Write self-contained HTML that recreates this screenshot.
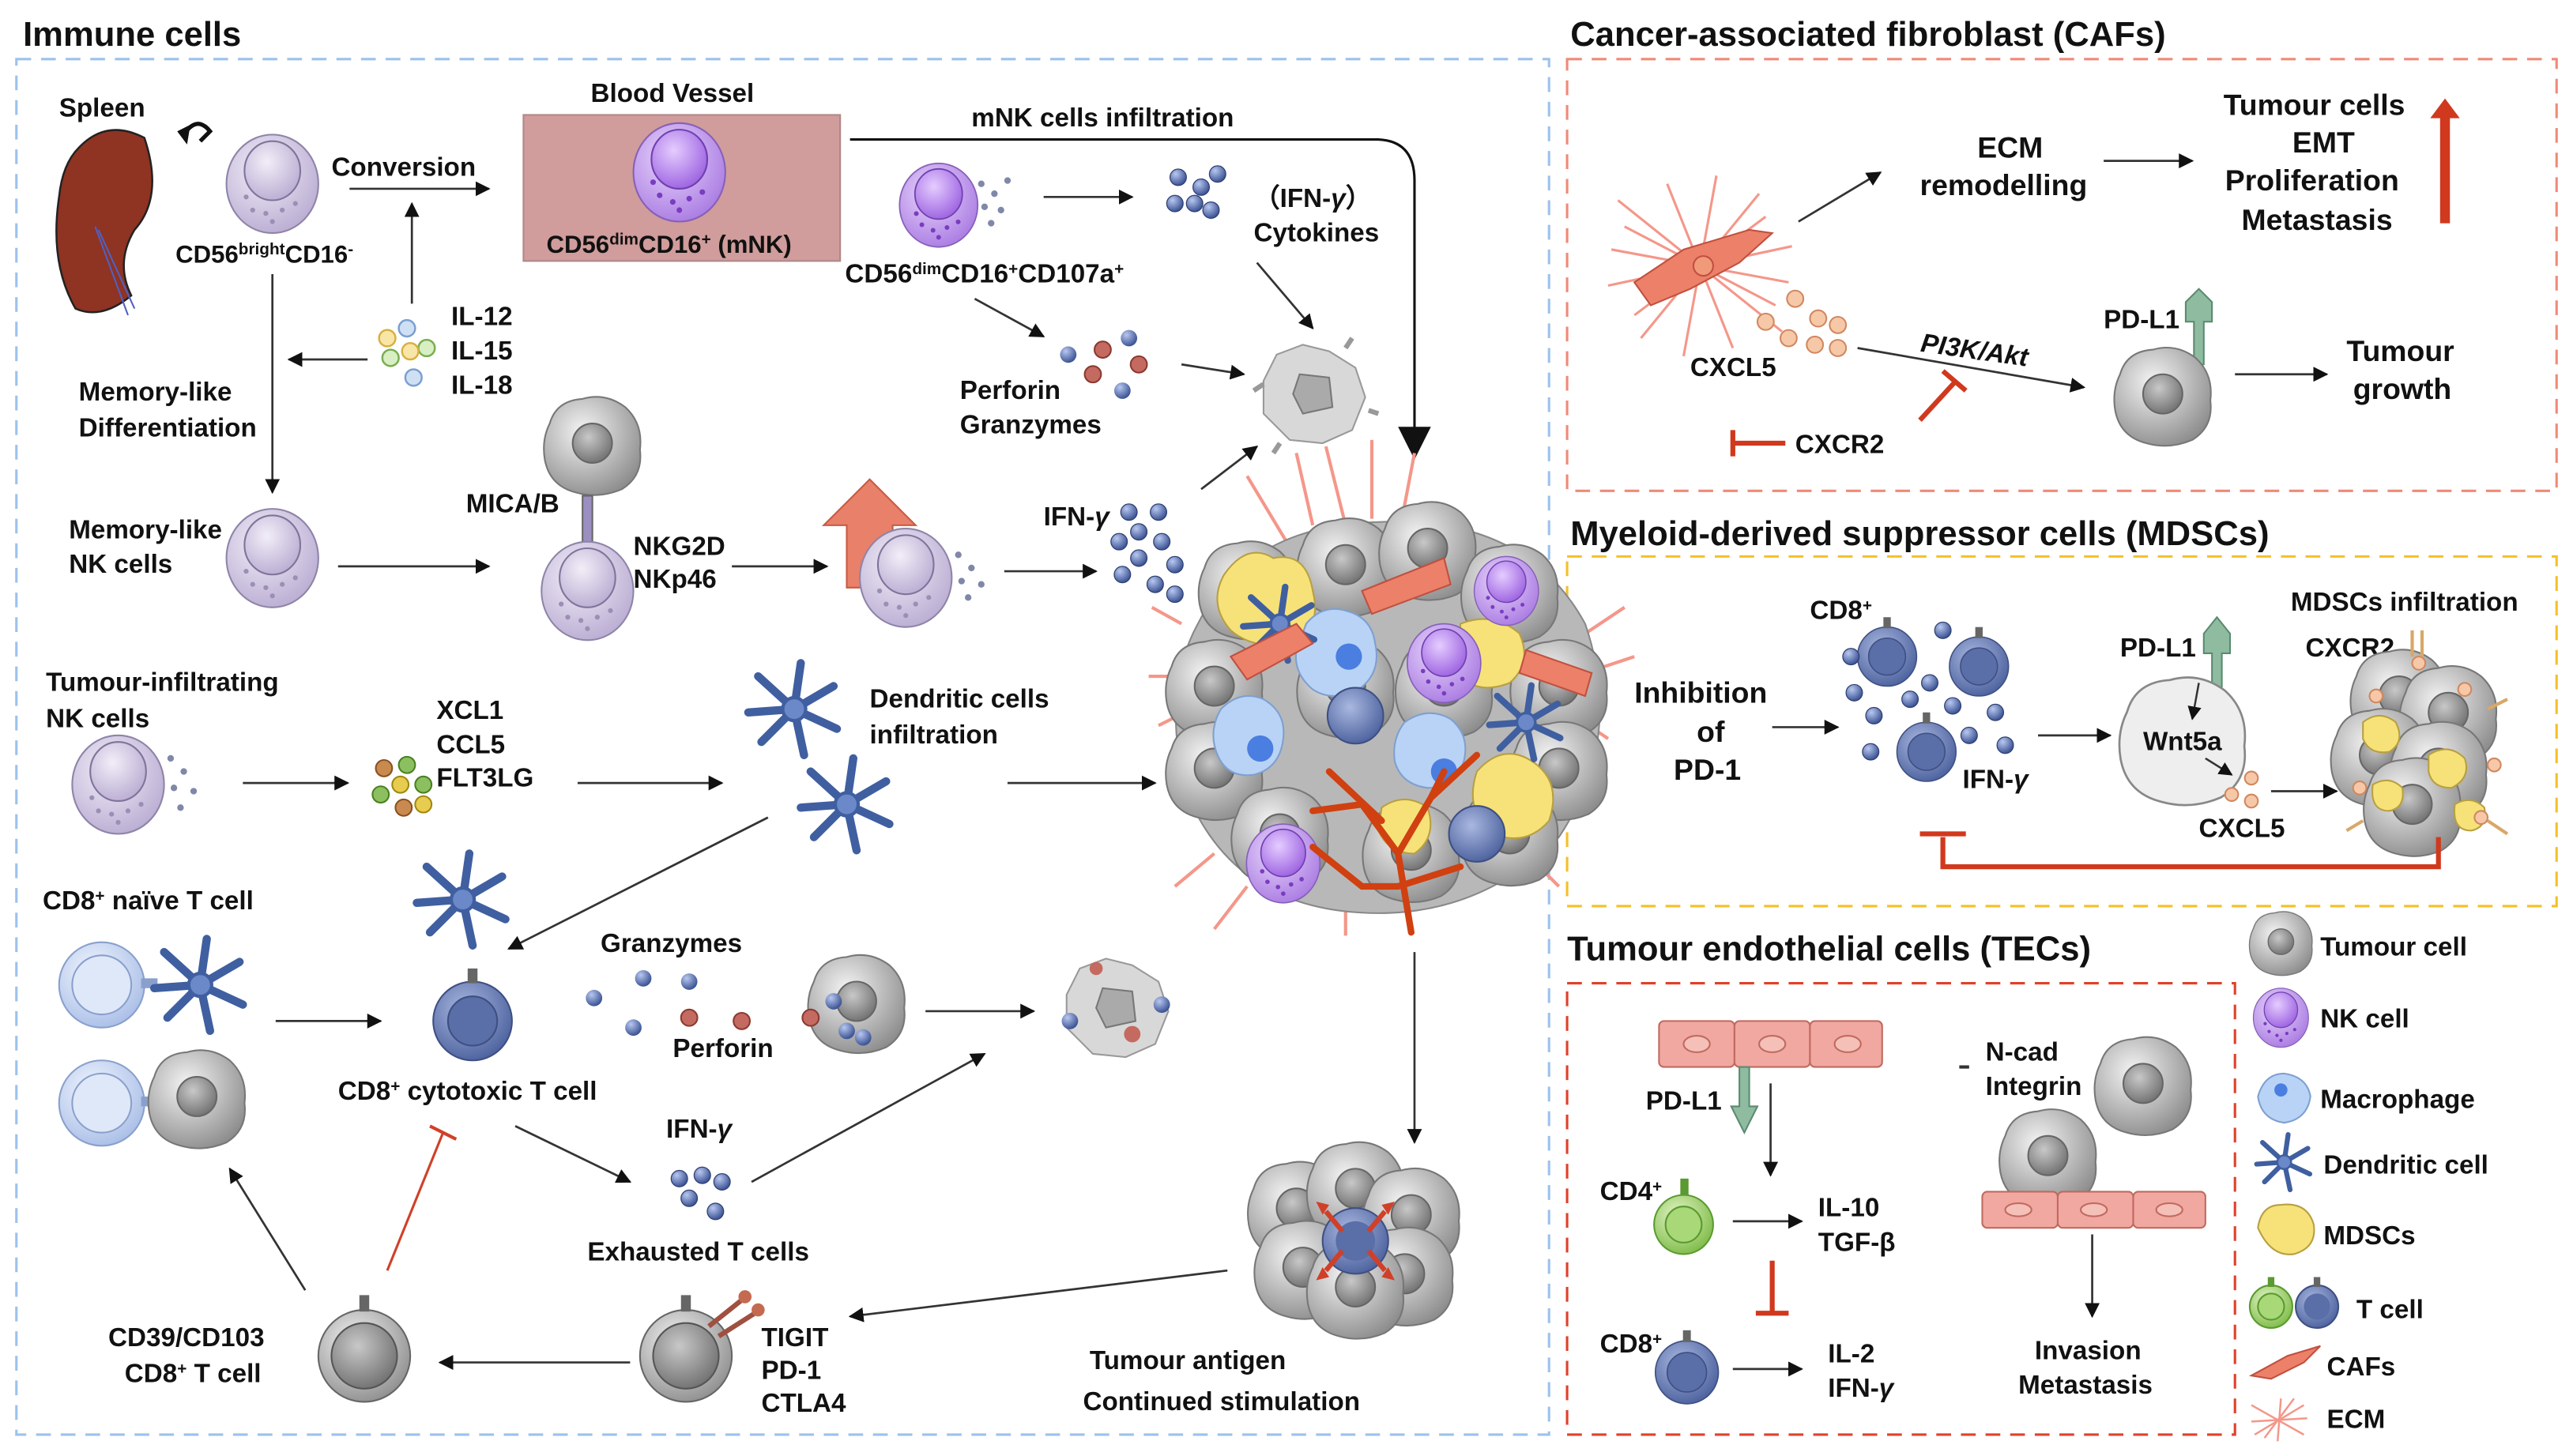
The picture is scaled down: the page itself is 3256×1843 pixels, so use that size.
<!DOCTYPE html>
<html><head><meta charset="utf-8"><style>
html,body{margin:0;padding:0;background:#fff}
svg{display:block}
text{font-family:"Liberation Sans Narrow","Liberation Sans",sans-serif;font-weight:bold;fill:#111}
</style></head><body>
<svg width="3256" height="1843" viewBox="0 0 1568 887" preserveAspectRatio="none" xmlns="http://www.w3.org/2000/svg">
<defs>
<radialGradient id="gg" cx="40%" cy="35%" r="70%"><stop offset="0" stop-color="#f4f4f4"/><stop offset="1" stop-color="#8d8d8d"/></radialGradient>
<radialGradient id="gn" cx="40%" cy="35%" r="70%"><stop offset="0" stop-color="#c8c8c8"/><stop offset="1" stop-color="#6f6f6f"/></radialGradient>
<radialGradient id="lav" cx="40%" cy="35%" r="70%"><stop offset="0" stop-color="#f2eef8"/><stop offset="1" stop-color="#b9acd2"/></radialGradient>
<radialGradient id="pur" cx="40%" cy="35%" r="70%"><stop offset="0" stop-color="#e8d6fb"/><stop offset="1" stop-color="#a97ae2"/></radialGradient>
<radialGradient id="purn" cx="40%" cy="35%" r="70%"><stop offset="0" stop-color="#e5ccff"/><stop offset="1" stop-color="#9b60e0"/></radialGradient>
<radialGradient id="blu" cx="40%" cy="35%" r="70%"><stop offset="0" stop-color="#a9b8e0"/><stop offset="1" stop-color="#4a5f9c"/></radialGradient>
<radialGradient id="lb" cx="40%" cy="35%" r="70%"><stop offset="0" stop-color="#f3f7ff"/><stop offset="1" stop-color="#a8bde6"/></radialGradient>
<radialGradient id="grn" cx="40%" cy="35%" r="70%"><stop offset="0" stop-color="#e4f5c8"/><stop offset="1" stop-color="#7cba45"/></radialGradient>
<radialGradient id="dot" cx="35%" cy="30%" r="70%"><stop offset="0" stop-color="#b8c8f0"/><stop offset="1" stop-color="#3d5495"/></radialGradient>
<marker id="a" viewBox="0 0 10 10" refX="9" refY="5" markerWidth="7" markerHeight="7" orient="auto-start-reverse"><path d="M0,0L10,5L0,10z" fill="#111"/></marker>
<g id="tum"><path d="M-26,-14 Q-22,-28 -6,-29 Q8,-33 20,-24 Q31,-14 29,2 Q31,18 18,26 Q4,32 -10,28 Q-26,24 -29,8 Q-31,-4 -26,-14z" fill="url(#gg)" stroke="#777" stroke-width="1"/><circle cx="0" cy="-2" r="12" fill="url(#gn)" stroke="#666"/></g>
<g id="nkl"><ellipse cx="0" cy="0" rx="28" ry="30" fill="url(#lav)" stroke="#8e84a8"/><ellipse cx="0" cy="-8" rx="17" ry="18" fill="url(#lav)" stroke="#7f7499"/><g fill="#9a8fb4"><circle cx="-12" cy="16" r="1.5"/><circle cx="-4" cy="18" r="1.5"/><circle cx="6" cy="16" r="1.5"/><circle cx="14" cy="12" r="1.5"/><circle cx="0" cy="23" r="1.5"/><circle cx="-16" cy="8" r="1.5"/></g></g>
<g id="nkp"><ellipse cx="0" cy="0" rx="28" ry="30" fill="url(#pur)" stroke="#8660b8"/><ellipse cx="0" cy="-8" rx="17" ry="18" fill="url(#purn)" stroke="#7040b0"/><g fill="#7a3cc0"><circle cx="-12" cy="14" r="1.7"/><circle cx="-4" cy="18" r="1.7"/><circle cx="6" cy="16" r="1.7"/><circle cx="14" cy="12" r="1.7"/><circle cx="0" cy="23" r="1.7"/><circle cx="-16" cy="6" r="1.7"/></g></g>
<g id="tcb"><circle r="24" fill="url(#blu)" stroke="#3e4f82"/><circle r="15" fill="#5a6ea8" stroke="#3e4f82"/><rect x="-3" y="-32" width="6" height="9" fill="#666"/></g>
<g id="tcg"><circle r="28" fill="url(#gg)" stroke="#666"/><circle r="20" fill="url(#gn)" stroke="#555"/><rect x="-3" y="-37" width="6" height="10" fill="#666"/></g>
<g id="dc" stroke="#3f5fa0" stroke-width="5" stroke-linecap="round" fill="none"><path d="M0,0L-22,-20M0,0L4,-28M0,0L24,-14M0,0L26,12M0,0L6,28M0,0L-20,20M0,0L-28,2"/><circle r="7" fill="#6b88c8" stroke-width="2"/></g>
<g id="bd"><circle r="5" fill="url(#dot)" stroke="#2e3f70" stroke-width=".6"/></g>
</defs>

<text x="14" y="28" font-size="21">Immune cells</text>
<text x="957" y="28" font-size="21">Cancer-associated fibroblast (CAFs)</text>
<text x="957" y="332" font-size="21">Myeloid-derived suppressor cells (MDSCs)</text>
<text x="955" y="585" font-size="21">Tumour endothelial cells (TECs)</text>

<rect x="10" y="36" width="934" height="838" fill="none" stroke="#9cc2ec" stroke-width="1.5" stroke-dasharray="9,6"/>
<rect x="955" y="36" width="603" height="263" fill="none" stroke="#f08a78" stroke-width="1.5" stroke-dasharray="9,6"/>
<rect x="955" y="339" width="603" height="213" fill="none" stroke="#f5c027" stroke-width="1.5" stroke-dasharray="9,6"/>
<rect x="955" y="599" width="407" height="275" fill="none" stroke="#e0412a" stroke-width="1.5" stroke-dasharray="9,6"/>

<text x="36" y="71" font-size="16">Spleen</text>
<path d="M48,90 Q65,72 88,84 Q100,120 82,140 Q70,160 80,180 Q62,195 46,188 Q30,160 36,120 Q38,100 48,90z" fill="#8f3322" stroke="#222" stroke-width="1.2"/>
<path d="M60,140 L82,188 M58,138 L78,192" stroke="#5060c0" stroke-width="1" fill="none"/>
<path d="M112,82 Q120,70 128,80 L122,86" fill="none" stroke="#111" stroke-width="2.5"/>
<path d="M108,80 L116,76 L114,88z" fill="#111"/>
<use href="#nkl" x="166" y="112"/>
<text x="107" y="160" font-size="15">CD56<tspan font-size="10" dy="-5">bright</tspan><tspan dy="5">CD16</tspan><tspan font-size="10" dy="-5">-</tspan></text>
<text x="202" y="107" font-size="16">Conversion</text>
<line x1="213" y1="115" x2="298" y2="115" stroke="#333" stroke-width="1.3" marker-end="url(#a)"/>
<line x1="251" y1="185" x2="251" y2="124" stroke="#333" stroke-width="1.3" marker-end="url(#a)"/>
<g stroke-width="1.2"><circle cx="248" cy="200" r="5" fill="#cfe0f5" stroke="#7aa0d0"/><circle cx="236" cy="206" r="5" fill="#f8e6a8" stroke="#d8b040"/><circle cx="260" cy="212" r="5" fill="#d8efc4" stroke="#7aae50"/><circle cx="250" cy="214" r="5" fill="#f8e6a8" stroke="#d8b040"/><circle cx="238" cy="218" r="5" fill="#d8efc4" stroke="#7aae50"/><circle cx="252" cy="230" r="5" fill="#cfe0f5" stroke="#7aa0d0"/></g>
<text x="275" y="198" font-size="16">IL-12</text>
<text x="275" y="219" font-size="16">IL-15</text>
<text x="275" y="240" font-size="16">IL-18</text>
<line x1="224" y1="219" x2="176" y2="219" stroke="#333" stroke-width="1.3" marker-end="url(#a)"/>
<line x1="166" y1="167" x2="166" y2="300" stroke="#333" stroke-width="1.3" marker-end="url(#a)"/>
<text x="48" y="244" font-size="16">Memory-like</text>
<text x="48" y="266" font-size="16">Differentiation</text>

<text x="360" y="62" font-size="16">Blood Vessel</text>
<rect x="319" y="70" width="193" height="89" fill="#d09c9c" stroke="#b08888"/>
<use href="#nkp" x="414" y="105"/>
<text x="333" y="154" font-size="15">CD56<tspan font-size="10" dy="-5">dim</tspan><tspan dy="5">CD16</tspan><tspan font-size="10" dy="-5">+</tspan><tspan dy="5"> (mNK)</tspan></text>
<text x="592" y="77" font-size="16">mNK cells infiltration</text>
<path d="M518,85 L840,85 Q862,86 862,110 L862,272" fill="none" stroke="#111" stroke-width="1.5"/>
<path d="M852,260 L862,280 L872,260z" fill="#111"/>
<use href="#nkp" x="572" y="125" transform="translate(572,125) scale(.85) translate(-572,-125)"/>
<g fill="#7f88a8"><circle cx="598" cy="112" r="2"/><circle cx="606" cy="118" r="2"/><circle cx="600" cy="126" r="2"/><circle cx="610" cy="128" r="2"/><circle cx="604" cy="136" r="2"/><circle cx="614" cy="110" r="2"/></g>
<text x="515" y="172" font-size="16">CD56<tspan font-size="10" dy="-5">dim</tspan><tspan dy="5">CD16</tspan><tspan font-size="10" dy="-5">+</tspan><tspan dy="5">CD107a</tspan><tspan font-size="10" dy="-5">+</tspan></text>
<line x1="636" y1="120" x2="690" y2="120" stroke="#333" stroke-width="1.3" marker-end="url(#a)"/>
<use href="#bd" x="718" y="108"/><use href="#bd" x="732" y="114"/><use href="#bd" x="742" y="106"/><use href="#bd" x="716" y="124"/><use href="#bd" x="738" y="128"/><use href="#bd" x="728" y="124"/>
<text x="764" y="126" font-size="16">（IFN-<tspan font-style="italic">γ</tspan>）</text>
<text x="764" y="147" font-size="16">Cytokines</text>
<line x1="766" y1="160" x2="800" y2="200" stroke="#333" stroke-width="1.3" marker-end="url(#a)"/>
<line x1="594" y1="182" x2="636" y2="205" stroke="#333" stroke-width="1.3" marker-end="url(#a)"/>
<circle cx="651" cy="216" r="5" fill="url(#dot)"/><circle cx="672" cy="213" r="5" fill="#c46a60" stroke="#8a3a30"/><circle cx="688" cy="206" r="5" fill="url(#dot)"/><circle cx="666" cy="228" r="5" fill="#c46a60" stroke="#8a3a30"/><circle cx="684" cy="238" r="5" fill="url(#dot)"/><circle cx="694" cy="222" r="5" fill="#c46a60" stroke="#8a3a30"/>
<text x="585" y="243" font-size="16">Perforin</text>
<text x="585" y="264" font-size="16">Granzymes</text>
<line x1="720" y1="222" x2="758" y2="228" stroke="#333" stroke-width="1.3" marker-end="url(#a)"/>
<g transform="translate(800,240)"><path d="M-30,-8 L-22,-24 L-6,-30 L10,-26 L26,-16 L32,2 L24,22 L6,30 L-14,28 L-30,12z" fill="#d8d8d8" stroke="#999"/><path d="M-8,-12 L10,-10 L12,8 L-6,12 L-12,0z" fill="#aaa" stroke="#777"/><path d="M-36,-2 l6,-4 M34,10 l6,2 M-20,30 l-4,6 M20,-28 l4,-6" stroke="#999" stroke-width="3"/></g>
<line x1="732" y1="298" x2="766" y2="272" stroke="#333" stroke-width="1.3" marker-end="url(#a)"/>

<text x="42" y="328" font-size="16">Memory-like</text>
<text x="42" y="349" font-size="16">NK cells</text>
<use href="#nkl" x="166" y="340"/>
<line x1="206" y1="345" x2="298" y2="345" stroke="#333" stroke-width="1.3" marker-end="url(#a)"/>
<use href="#tum" x="361" y="272"/>
<rect x="355" y="302" width="6" height="30" fill="#9a8fc0" stroke="#666"/>
<text x="284" y="312" font-size="16">MICA/B</text>
<use href="#nkl" x="358" y="360"/>
<text x="386" y="338" font-size="16">NKG2D</text>
<text x="386" y="358" font-size="16">NKp46</text>
<line x1="446" y1="345" x2="504" y2="345" stroke="#333" stroke-width="1.3" marker-end="url(#a)"/>
<path d="M516,358 L516,320 L502,320 L530,292 L558,320 L544,320 L544,358z" fill="#e8806a" stroke="#c85a44"/>
<use href="#nkl" x="552" y="352"/>
<g fill="#7f88a8"><circle cx="584" cy="338" r="2"/><circle cx="592" cy="346" r="2"/><circle cx="586" cy="354" r="2"/><circle cx="598" cy="356" r="2"/><circle cx="590" cy="364" r="2"/></g>
<line x1="612" y1="348" x2="668" y2="348" stroke="#333" stroke-width="1.3" marker-end="url(#a)"/>
<text x="636" y="320" font-size="16">IFN-<tspan font-style="italic">γ</tspan></text>
<use href="#bd" x="688" y="312"/><use href="#bd" x="706" y="312"/><use href="#bd" x="694" y="324"/><use href="#bd" x="682" y="330"/><use href="#bd" x="708" y="330"/><use href="#bd" x="694" y="340"/><use href="#bd" x="716" y="344"/><use href="#bd" x="684" y="350"/><use href="#bd" x="704" y="356"/><use href="#bd" x="716" y="362"/>

<text x="28" y="421" font-size="16">Tumour-infiltrating</text>
<text x="28" y="443" font-size="16">NK cells</text>
<use href="#nkl" x="72" y="478"/>
<g fill="#7f88a8"><circle cx="104" cy="462" r="2"/><circle cx="112" cy="470" r="2"/><circle cx="106" cy="480" r="2"/><circle cx="118" cy="482" r="2"/><circle cx="110" cy="492" r="2"/></g>
<line x1="148" y1="477" x2="212" y2="477" stroke="#333" stroke-width="1.3" marker-end="url(#a)"/>
<circle cx="234" cy="468" r="5" fill="#c98a50" stroke="#8a5020"/><circle cx="248" cy="466" r="5" fill="#8bbf60" stroke="#4a8020"/><circle cx="232" cy="484" r="5" fill="#8bbf60" stroke="#4a8020"/><circle cx="244" cy="478" r="5" fill="#e8cc50" stroke="#a08810"/><circle cx="258" cy="478" r="5" fill="#8bbf60" stroke="#4a8020"/><circle cx="246" cy="492" r="5" fill="#c98a50" stroke="#8a5020"/><circle cx="258" cy="490" r="5" fill="#e8cc50" stroke="#a08810"/>
<text x="266" y="438" font-size="16">XCL1</text>
<text x="266" y="459" font-size="16">CCL5</text>
<text x="266" y="479" font-size="16">FLT3LG</text>
<line x1="352" y1="477" x2="440" y2="477" stroke="#333" stroke-width="1.3" marker-end="url(#a)"/>
<use href="#dc" x="484" y="432"/>
<use href="#dc" x="516" y="490"/>
<text x="530" y="431" font-size="16">Dendritic cells</text>
<text x="530" y="453" font-size="16">infiltration</text>
<line x1="614" y1="477" x2="704" y2="477" stroke="#333" stroke-width="1.3" marker-end="url(#a)"/>
<line x1="468" y1="498" x2="310" y2="578" stroke="#333" stroke-width="1.3" marker-end="url(#a)"/>

<text x="26" y="554" font-size="16">CD8<tspan font-size="10" dy="-5">+</tspan><tspan dy="5"> naïve T cell</tspan></text>
<circle cx="62" cy="600" r="26" fill="url(#lb)" stroke="#8aa0cc"/><circle cx="62" cy="600" r="18" fill="#dfe8f8" stroke="#8aa0cc"/>
<rect x="86" y="596" width="10" height="6" fill="#8aa0cc"/>
<use href="#dc" x="122" y="600"/>
<circle cx="62" cy="672" r="26" fill="url(#lb)" stroke="#8aa0cc"/><circle cx="62" cy="672" r="18" fill="#dfe8f8" stroke="#8aa0cc"/>
<rect x="86" y="668" width="10" height="6" fill="#8aa0cc"/>
<use href="#tum" x="120" y="670"/>
<line x1="168" y1="622" x2="232" y2="622" stroke="#333" stroke-width="1.3" marker-end="url(#a)"/>
<use href="#dc" x="282" y="548"/>
<use href="#tcb" x="288" y="622"/>
<text x="206" y="670" font-size="16">CD8<tspan font-size="10" dy="-5">+</tspan><tspan dy="5"> cytotoxic T cell</tspan></text>
<text x="366" y="580" font-size="16">Granzymes</text>
<circle cx="362" cy="608" r="5" fill="url(#dot)"/><circle cx="392" cy="596" r="5" fill="url(#dot)"/><circle cx="420" cy="598" r="5" fill="url(#dot)"/><circle cx="386" cy="626" r="5" fill="url(#dot)"/><circle cx="420" cy="620" r="5" fill="#c46a60" stroke="#8a3a30"/><circle cx="452" cy="622" r="5" fill="#c46a60" stroke="#8a3a30"/>
<text x="410" y="644" font-size="16">Perforin</text>
<use href="#tum" x="522" y="612"/>
<circle cx="508" cy="610" r="5" fill="url(#dot)"/><circle cx="516" cy="628" r="5" fill="url(#dot)"/><circle cx="526" cy="632" r="5" fill="url(#dot)"/><circle cx="494" cy="620" r="5" fill="#c46a60" stroke="#8a3a30"/>
<line x1="564" y1="616" x2="630" y2="616" stroke="#333" stroke-width="1.3" marker-end="url(#a)"/>
<g transform="translate(680,614)"><path d="M-30,-8 L-22,-24 L-6,-30 L10,-26 L26,-16 L32,2 L24,22 L6,30 L-14,28 L-30,12z" fill="#d8d8d8" stroke="#999"/><path d="M-8,-12 L10,-10 L12,8 L-6,12 L-12,0z" fill="#aaa" stroke="#777"/><circle cx="-28" cy="8" r="5" fill="url(#dot)"/><circle cx="28" cy="-2" r="5" fill="url(#dot)"/><circle cx="10" cy="16" r="5" fill="#c46a60"/><circle cx="-12" cy="-24" r="4" fill="#c46a60"/></g>
<line x1="314" y1="686" x2="384" y2="720" stroke="#333" stroke-width="1.3" marker-end="url(#a)"/>
<text x="406" y="693" font-size="16">IFN-<tspan font-style="italic">γ</tspan></text>
<use href="#bd" x="414" y="718"/><use href="#bd" x="428" y="716"/><use href="#bd" x="440" y="720"/><use href="#bd" x="420" y="730"/><use href="#bd" x="436" y="738"/>
<line x1="458" y1="720" x2="600" y2="642" stroke="#333" stroke-width="1.3" marker-end="url(#a)"/>
<text x="358" y="768" font-size="16">Exhausted T cells</text>
<line x1="270" y1="690" x2="236" y2="774" stroke="#d04028" stroke-width="1.5"/>
<line x1="262" y1="686" x2="278" y2="694" stroke="#d04028" stroke-width="2"/>
<line x1="186" y1="786" x2="140" y2="712" stroke="#333" stroke-width="1.3" marker-end="url(#a)"/>
<text x="66" y="820" font-size="16">CD39/CD103</text>
<text x="76" y="842" font-size="16">CD8<tspan font-size="10" dy="-5">+</tspan><tspan dy="5"> T cell</tspan></text>
<use href="#tcg" x="222" y="826"/>
<line x1="384" y1="830" x2="268" y2="830" stroke="#333" stroke-width="1.3" marker-end="url(#a)"/>
<use href="#tcg" x="418" y="826"/>
<path d="M432,808 L452,792 M438,814 L460,800" stroke="#a05040" stroke-width="3"/>
<circle cx="454" cy="790" r="4" fill="#c46a50"/><circle cx="462" cy="798" r="4" fill="#c46a50"/>
<text x="464" y="820" font-size="16">TIGIT</text>
<text x="464" y="840" font-size="16">PD-1</text>
<text x="464" y="860" font-size="16">CTLA4</text>
<line x1="748" y1="774" x2="518" y2="802" stroke="#333" stroke-width="1.3" marker-end="url(#a)"/>
<text x="664" y="834" font-size="16">Tumour antigen</text>
<text x="660" y="859" font-size="16">Continued stimulation</text>
<line x1="862" y1="580" x2="862" y2="696" stroke="#333" stroke-width="1.3" marker-end="url(#a)"/>
<g transform="translate(826,756)"><use href="#tum" x="-36" y="-18"/><use href="#tum" x="0" y="-30"/><use href="#tum" x="34" y="-14"/><use href="#tum" x="-32" y="18"/><use href="#tum" x="30" y="22"/><use href="#tum" x="0" y="30"/>
<circle r="20" fill="url(#blu)" stroke="#3e4f82"/><circle r="12" fill="#5a6ea8"/>
<path d="M-18,-18 L-8,-6 M18,-18 L8,-6 M-18,18 L-8,6 M18,18 L8,6" stroke="#d04028" stroke-width="3"/>
<path d="M-24,-24 l8,2 l-4,6z M24,-24 l-8,2 l4,6z M-24,24 l8,-2 l-4,-6z M24,24 l-8,-2 l4,-6z" fill="#d04028"/></g>

<!-- Big tumour -->
<g>
<g stroke="#f4978a" stroke-width="2"><path d="M790,340 L760,290 M800,320 L790,276 M820,320 L808,272 M836,316 L836,268 M854,318 L862,276 M720,380 L702,370 M722,412 L700,412 M730,430 L706,442 M960,390 L990,370 M966,410 L996,400 M950,430 L980,450 M740,520 L716,540 M760,540 L740,566 M820,540 L820,570 M930,520 L950,540"/></g>
<path d="M730,380 Q760,320 840,318 Q930,314 966,380 Q990,450 950,510 Q900,560 830,556 Q750,552 722,480 Q708,420 730,380z" fill="#b8b8b8" stroke="#888"/>
<use href="#tum" x="760" y="360"/><use href="#tum" x="820" y="346"/><use href="#tum" x="870" y="336"/><use href="#tum" x="920" y="362"/><use href="#tum" x="740" y="420"/><use href="#tum" x="950" y="420"/><use href="#tum" x="740" y="470"/><use href="#tum" x="950" y="470"/><use href="#tum" x="780" y="510"/><use href="#tum" x="920" y="510"/><use href="#tum" x="860" y="520"/><use href="#tum" x="820" y="420"/><use href="#tum" x="880" y="420"/>
<path d="M746,350 Q760,330 776,340 Q796,336 800,360 Q806,384 786,392 Q764,396 750,384 Q736,368 746,350z" fill="#f7e27a" stroke="#b8a040"/>
<path d="M900,470 Q916,452 934,464 Q952,476 944,500 Q930,516 910,508 Q892,494 900,470z" fill="#f7e27a" stroke="#b8a040"/>
<path d="M890,380 Q910,372 926,386 Q934,404 920,416 Q900,424 888,410z" fill="#f7e27a" stroke="#b8a040"/>
<path d="M842,492 Q856,482 870,492 Q876,510 862,520 Q846,520 840,506z" fill="#f7e27a" stroke="#b8a040"/>
<g fill="#b8d3f5" stroke="#7fa0d0"><path d="M796,380 q10,-12 24,-8 q16,4 18,20 q4,18 -10,28 q-16,8 -28,0 q-12,-10 -10,-24z"/><path d="M744,432 q12,-12 26,-6 q14,8 12,24 q-2,18 -18,22 q-16,2 -22,-12 q-6,-14 2,-28z"/><path d="M856,440 q14,-10 28,-2 q12,10 8,26 q-6,16 -22,16 q-16,-2 -20,-16 q-2,-14 6,-24z"/></g>
<circle cx="822" cy="400" r="8" fill="#4a7ee0"/><circle cx="768" cy="456" r="8" fill="#4a7ee0"/><circle cx="880" cy="470" r="8" fill="#4a7ee0"/>
<circle cx="826" cy="436" r="17" fill="url(#blu)" stroke="#3e4f82"/>
<circle cx="900" cy="508" r="17" fill="url(#blu)" stroke="#3e4f82"/>
<use href="#nkp" x="880" y="404" transform="translate(880,404) scale(.8) translate(-880,-404)"/>
<use href="#nkp" x="918" y="360" transform="translate(918,360) scale(.7) translate(-918,-360)"/>
<use href="#nkp" x="782" y="526" transform="translate(782,526) scale(.8) translate(-782,-526)"/>
<use href="#dc" x="780" y="380" transform="translate(780,380) scale(.8) translate(-780,-380)"/>
<use href="#dc" x="930" y="440" transform="translate(930,440) scale(.8) translate(-930,-440)"/>
<path d="M750,400 L790,380 L800,392 L760,414z" fill="#ec8068" stroke="#c05040"/>
<path d="M830,360 L880,340 L884,356 L836,374z" fill="#ec8068" stroke="#c05040"/>
<path d="M930,396 L970,410 L966,424 L926,410z" fill="#ec8068" stroke="#c05040"/>
<path d="M860,568 L852,520 L830,490 M852,520 L872,486 L880,470 M842,500 L810,470 M872,486 L900,460 M830,490 L800,494 M852,540 L830,540 L800,516 M852,540 L890,528" fill="none" stroke="#d04010" stroke-width="4" stroke-linecap="round"/>
</g>

<g transform="translate(1036,162)">
<g stroke="#f4978a" stroke-width="1.5"><path d="M-50,-40 L50,40 M-54,-10 L54,10 M-40,30 L40,-30 M-20,-50 L20,50 M10,-55 L-10,55 M36,-44 L-36,44 M-56,12 L56,-12 M-46,-24 L46,24"/></g>
<path d="M-40,10 L-10,-10 L30,-22 L44,-20 L24,-2 L-6,14 L-30,24z" fill="#ec8068" stroke="#c05040"/>
<circle cx="2" cy="0" r="6" fill="#f09a7a" stroke="#c05040"/>
</g>
<g fill="#f6c8a8" stroke="#d08860"><circle cx="1094" cy="182" r="5"/><circle cx="1108" cy="194" r="5"/><circle cx="1090" cy="206" r="5"/><circle cx="1120" cy="198" r="5"/><circle cx="1106" cy="210" r="5"/><circle cx="1076" cy="196" r="5"/><circle cx="1120" cy="212" r="5"/></g>
<text x="1030" y="229" font-size="16">CXCL5</text>
<line x1="1096" y1="135" x2="1146" y2="105" stroke="#333" stroke-width="1.3" marker-end="url(#a)"/>
<text x="1205" y="96" font-size="18">ECM</text>
<text x="1170" y="119" font-size="18">remodelling</text>
<line x1="1282" y1="98" x2="1336" y2="98" stroke="#333" stroke-width="1.3" marker-end="url(#a)"/>
<text x="1355" y="70" font-size="18">Tumour cells</text>
<text x="1397" y="93" font-size="18">EMT</text>
<text x="1356" y="116" font-size="18">Proliferation</text>
<text x="1366" y="140" font-size="18">Metastasis</text>
<path d="M1487,136 L1487,72 L1481,72 L1490,60 L1499,72 L1493,72 L1493,136z" fill="#d0391e"/>
<line x1="1132" y1="212" x2="1270" y2="236" stroke="#333" stroke-width="1.3" marker-end="url(#a)"/>
<text x="1170" y="214" font-size="16" font-style="italic" transform="rotate(8 1170 214)">PI3K/Akt</text>
<line x1="1170" y1="256" x2="1192" y2="232" stroke="#d0391e" stroke-width="3"/>
<line x1="1184" y1="226" x2="1198" y2="238" stroke="#d0391e" stroke-width="3"/>
<line x1="1056" y1="270" x2="1088" y2="270" stroke="#d0391e" stroke-width="3"/>
<line x1="1056" y1="262" x2="1056" y2="278" stroke="#d0391e" stroke-width="3"/>
<text x="1094" y="276" font-size="16">CXCR2</text>
<text x="1282" y="200" font-size="16">PD-L1</text>
<path d="M1337,222 L1337,196 L1332,196 L1332,184 L1340,176 L1348,184 L1348,196 L1343,196 L1343,222z" fill="#8fbca0" stroke="#5a8a70"/>
<use href="#tum" x="1318" y="242"/>
<line x1="1362" y1="228" x2="1418" y2="228" stroke="#333" stroke-width="1.3" marker-end="url(#a)"/>
<text x="1430" y="220" font-size="18">Tumour</text>
<text x="1434" y="243" font-size="18">growth</text>

<text x="996" y="428" font-size="18">Inhibition</text>
<text x="1034" y="452" font-size="18">of</text>
<text x="1020" y="475" font-size="18">PD-1</text>
<line x1="1080" y1="443" x2="1120" y2="443" stroke="#333" stroke-width="1.3" marker-end="url(#a)"/>
<text x="1103" y="377" font-size="16">CD8<tspan font-size="10" dy="-5">+</tspan></text>
<g transform="translate(1150,400) scale(.75)"><use href="#tcb"/></g>
<g transform="translate(1206,406) scale(.75)"><use href="#tcb"/></g>
<g transform="translate(1174,458) scale(.75)"><use href="#tcb"/></g>
<use href="#bd" x="1184" y="384"/><use href="#bd" x="1130" y="422"/><use href="#bd" x="1142" y="436"/><use href="#bd" x="1164" y="426"/><use href="#bd" x="1190" y="430"/><use href="#bd" x="1216" y="434"/><use href="#bd" x="1222" y="454"/><use href="#bd" x="1140" y="458"/><use href="#bd" x="1200" y="448"/><use href="#bd" x="1128" y="400"/><use href="#bd" x="1176" y="416"/>
<text x="1196" y="480" font-size="16">IFN-<tspan font-style="italic">γ</tspan></text>
<line x1="1242" y1="448" x2="1286" y2="448" stroke="#333" stroke-width="1.3" marker-end="url(#a)"/>
<text x="1292" y="400" font-size="16">PD-L1</text>
<path d="M1348,428 L1348,398 L1343,398 L1343,386 L1351,376 L1359,386 L1359,398 L1354,398 L1354,428z" fill="#8fbca0" stroke="#5a8a70"/>
<g transform="translate(1330,452) scale(1.3)"><path d="M-26,-14 Q-22,-28 -6,-29 Q8,-33 20,-24 Q31,-14 29,2 Q31,18 18,26 Q4,32 -10,28 Q-26,24 -29,8 Q-31,-4 -26,-14z" fill="#eee" stroke="#888"/></g>
<line x1="1340" y1="416" x2="1336" y2="438" stroke="#333" stroke-width="1.2" marker-end="url(#a)"/>
<text x="1306" y="457" font-size="16">Wnt5a</text>
<line x1="1344" y1="462" x2="1360" y2="472" stroke="#333" stroke-width="1.2" marker-end="url(#a)"/>
<g fill="#f6c8a8" stroke="#d08860"><circle cx="1372" cy="474" r="4"/><circle cx="1360" cy="484" r="4"/><circle cx="1372" cy="488" r="4"/></g>
<text x="1340" y="510" font-size="16">CXCL5</text>
<line x1="1384" y1="482" x2="1424" y2="482" stroke="#333" stroke-width="1.3" marker-end="url(#a)"/>
<text x="1396" y="372" font-size="16">MDSCs infiltration</text>
<text x="1405" y="400" font-size="16">CXCR2</text>
<g><use href="#tum" x="1462" y="426"/><use href="#tum" x="1492" y="436"/><use href="#tum" x="1450" y="462"/><use href="#tum" x="1486" y="470"/><use href="#tum" x="1470" y="492"/>
<path d="M1440,440 q10,-8 20,0 q6,12 -4,18 q-12,2 -16,-8z M1480,460 q12,-8 22,2 q4,12 -8,18 q-12,0 -14,-10z M1446,478 q10,-6 18,2 q2,12 -8,14 q-12,0 -10,-16z M1496,490 q10,-6 18,2 q2,12 -8,14 q-12,0 -10,-16z" fill="#f7e27a" stroke="#b8a040"/>
<g fill="#f6c8a8" stroke="#d08860"><circle cx="1438" cy="480" r="4"/><circle cx="1448" cy="424" r="4"/><circle cx="1520" cy="466" r="4"/><circle cx="1502" cy="420" r="4"/><circle cx="1474" cy="404" r="4"/><circle cx="1512" cy="498" r="4"/></g>
<path d="M1470,400 L1470,384 M1476,400 L1476,384 M1516,432 L1528,426 M1516,500 L1528,508 M1440,500 L1430,506" stroke="#d8a868" stroke-width="2"/></g>
<path d="M1486,510 L1486,528 L1184,528 L1184,510" fill="none" stroke="#d0391e" stroke-width="3"/>
<line x1="1170" y1="508" x2="1198" y2="508" stroke="#d0391e" stroke-width="3"/>

<g fill="#f0a8a0" stroke="#c06a60"><rect x="1011" y="622" width="46" height="28" rx="3"/><rect x="1057" y="622" width="46" height="28" rx="3"/><rect x="1103" y="622" width="44" height="28" rx="3"/></g>
<g fill="#f5c0b8" stroke="#c06a60"><ellipse cx="1034" cy="636" rx="8" ry="5"/><ellipse cx="1080" cy="636" rx="8" ry="5"/><ellipse cx="1126" cy="636" rx="8" ry="5"/></g>
<path d="M1060,650 L1060,674 L1055,674 L1063,690 L1071,674 L1066,674 L1066,650z" fill="#8fbca0" stroke="#5a8a70"/>
<text x="1003" y="676" font-size="16">PD-L1</text>
<line x1="1079" y1="660" x2="1079" y2="716" stroke="#333" stroke-width="1.3" marker-end="url(#a)"/>
<text x="975" y="731" font-size="16">CD4<tspan font-size="10" dy="-5">+</tspan></text>
<circle cx="1026" cy="746" r="18" fill="url(#grn)" stroke="#5a9a30"/><circle cx="1026" cy="746" r="11" fill="#a8d878" stroke="#5a9a30"/><rect x="1024" y="718" width="5" height="10" fill="#5a9a30"/>
<line x1="1056" y1="744" x2="1098" y2="744" stroke="#333" stroke-width="1.3" marker-end="url(#a)"/>
<text x="1108" y="741" font-size="16">IL-10</text>
<text x="1108" y="762" font-size="16">TGF-β</text>
<line x1="1080" y1="768" x2="1080" y2="800" stroke="#d0391e" stroke-width="3"/>
<line x1="1070" y1="800" x2="1090" y2="800" stroke="#d0391e" stroke-width="3"/>
<text x="975" y="824" font-size="16">CD8<tspan font-size="10" dy="-5">+</tspan></text>
<g transform="translate(1028,836) scale(.8)"><use href="#tcb"/></g>
<line x1="1056" y1="834" x2="1098" y2="834" stroke="#333" stroke-width="1.3" marker-end="url(#a)"/>
<text x="1114" y="830" font-size="16">IL-2</text>
<text x="1114" y="851" font-size="16">IFN-<tspan font-style="italic">γ</tspan></text>
<line x1="1194" y1="650" x2="1200" y2="650" stroke="#333" stroke-width="2"/>
<text x="1210" y="646" font-size="16">N-cad</text>
<text x="1210" y="667" font-size="16">Integrin</text>
<use href="#tum" x="1306" y="662"/>
<use href="#tum" x="1248" y="706"/>
<g fill="#f0a8a0" stroke="#c06a60"><rect x="1208" y="726" width="46" height="22" rx="3"/><rect x="1254" y="726" width="46" height="22" rx="3"/><rect x="1300" y="726" width="44" height="22" rx="3"/></g>
<g fill="#f5c0b8" stroke="#c06a60"><ellipse cx="1230" cy="737" rx="8" ry="4"/><ellipse cx="1276" cy="737" rx="8" ry="4"/><ellipse cx="1322" cy="737" rx="8" ry="4"/></g>
<line x1="1275" y1="752" x2="1275" y2="802" stroke="#333" stroke-width="1.3" marker-end="url(#a)"/>
<text x="1240" y="828" font-size="16">Invasion</text>
<text x="1230" y="849" font-size="16">Metastasis</text>

<g transform="translate(1390,575) scale(.65)"><use href="#tum"/></g>
<text x="1414" y="582" font-size="16">Tumour cell</text>
<g transform="translate(1390,620) scale(.6)"><use href="#nkp"/></g>
<text x="1414" y="626" font-size="16">NK cell</text>
<path d="M1376,668 q4,-14 16,-14 q14,2 16,14 q-2,14 -16,16 q-14,-2 -16,-16z" fill="#b8d3f5" stroke="#7fa0d0"/><circle cx="1390" cy="664" r="4" fill="#4a7ee0"/>
<text x="1414" y="675" font-size="16">Macrophage</text>
<g transform="translate(1392,708) scale(.6)"><use href="#dc"/></g>
<text x="1416" y="715" font-size="16">Dendritic cell</text>
<path d="M1376,748 q2,-14 14,-14 q16,-2 20,12 q2,14 -12,18 q-14,2 -22,-16z" fill="#f7e27a" stroke="#b8a040"/>
<text x="1416" y="758" font-size="16">MDSCs</text>
<circle cx="1384" cy="796" r="13" fill="url(#grn)" stroke="#5a9a30"/><circle cx="1384" cy="796" r="8" fill="#a8d878" stroke="#5a9a30"/>
<circle cx="1412" cy="796" r="13" fill="url(#blu)" stroke="#3e4f82"/><circle cx="1412" cy="796" r="8" fill="#5a6ea8"/>
<rect x="1382" y="778" width="4" height="6" fill="#5a9a30"/><rect x="1410" y="778" width="4" height="6" fill="#666"/>
<text x="1436" y="803" font-size="16">T cell</text>
<path d="M1372,838 L1394,826 L1414,820 L1404,830 L1384,840z" fill="#ec8068" stroke="#c05040"/>
<text x="1418" y="838" font-size="16">CAFs</text>
<g stroke="#f4978a" stroke-width="1.2"><path d="M1372,856 L1404,874 M1372,866 L1406,864 M1380,876 L1398,852 M1388,878 L1390,852 M1374,874 L1404,856"/></g>
<text x="1418" y="870" font-size="16">ECM</text>
</svg>
</body></html>
